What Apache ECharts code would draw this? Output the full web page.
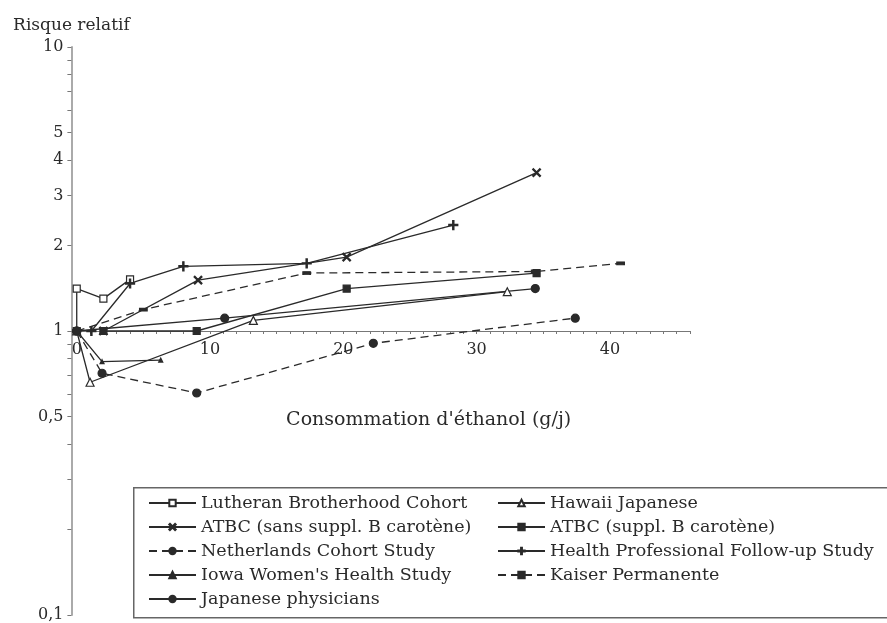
<!DOCTYPE html>
<html>
<head>
<meta charset="utf-8">
<script src="https://cdn.jsdelivr.net/npm/echarts@6/dist/echarts.min.js"></script>
<style>html,body{margin:0;padding:0;background:#fff}#c{width:887px;height:623px}</style>
</head>
<body>
<div id="c"></div>
<script>
// ---- data ----
const seriesNames = [
  'Lutheran Brotherhood Cohort',
  'Hawaii Japanese',
  'ATBC (sans suppl. B carotène)',
  'ATBC (suppl. B carotène)',
  'Netherlands Cohort Study',
  'Health Professional Follow-up Study',
  "Iowa Women's Health Study",
  'Kaiser Permanente',
  'Japanese physicians'
];
const lutheranX = [0, 0, 2.0, 4.0];
const lutheranY = [1, 1.41, 1.30, 1.52];
const hawaiiX = [0, 1.0, 13.25, 32.3];
const hawaiiY = [1, 0.66, 1.09, 1.375];
const atbcSansX = [2.0, 9.1, 20.25, 34.5];
const atbcSansY = [1.0, 1.51, 1.82, 3.61];
const atbcSupX = [2.0, 9.0, 20.25, 34.5];
const atbcSupY = [1.0, 1.0, 1.41, 1.60];
const netherX = [0, 1.9, 9.0, 22.25, 37.4];
const netherY = [1, 0.71, 0.605, 0.905, 1.11];
const hpfX = [1.1, 4.0, 8.0, 17.25, 28.25];
const hpfY = [1.0, 1.47, 1.69, 1.73, 2.36];
const iowaX = [0, 1.9, 6.3];
const iowaY = [1, 0.78, 0.79];
const kaiserX = [0, 5.0, 17.25, 34.4, 40.8];
const kaiserY = [1, 1.19, 1.60, 1.62, 1.73];
const japanX = [0, 11.1, 34.4];
const japanY = [1, 1.11, 1.41];

const xLabelValues = [0, 10, 20, 30, 40];
const yLabelValues = [0.1, 0.5, 1, 2, 3, 4, 5, 10];
const yTickValues = [0.1,0.2,0.3,0.4,0.5,0.6,0.7,0.8,0.9,1,2,3,4,5,6,7,8,9,10];
const xTickValues = [];
for (let i = 0; i <= 46; i++) xTickValues.push(i);

// ---- styling ----
const FONT = 'DejaVu Serif';
const INK = '#2a2a2a';
const X_MIN = -0.4, X_MAX = 46;
const pairs = (xs, ys) => xs.map((x, i) => [x, ys[i]]);
const crossPath = 'path://M1,0L5,4L9,0L10,1L6,5L10,9L9,10L5,6L1,10L0,9L4,5L0,1Z';
const plusPath = 'path://M4.3,0H5.7V4.3H10V5.7H5.7V10H4.3V5.7H0V4.3H4.3Z';

function mk(name, xs, ys, symbol, size, dashed, fill) {
  return {
    name, type: 'line', xAxisIndex: 0, yAxisIndex: 0,
    data: pairs(xs, ys),
    symbol, symbolSize: size, showSymbol: true,
    lineStyle: { color: INK, width: 1.3, type: dashed ? [8, 5] : 'solid' },
    itemStyle: { color: fill || INK, borderColor: INK, borderWidth: 1.2 },
    emphasis: { disabled: true },
    z: 3
  };
}

const series = [
  mk(seriesNames[0], lutheranX, lutheranY, 'rect', 7, false, '#fff'),
  mk(seriesNames[1], hawaiiX, hawaiiY, 'triangle', 8, false, '#fff'),
  mk(seriesNames[2], atbcSansX, atbcSansY, crossPath, 8, false),
  mk(seriesNames[3], atbcSupX, atbcSupY, 'rect', 7, false),
  mk(seriesNames[4], netherX, netherY, 'circle', 8, true),
  mk(seriesNames[5], hpfX, hpfY, plusPath, 9, false),
  mk(seriesNames[6], iowaX, iowaY, 'triangle', 4, false),
  mk(seriesNames[7], kaiserX, kaiserY, 'rect', [7, 3], true),
  mk(seriesNames[8], japanX, japanY, 'circle', 8, false)
];

const legendText = { fontFamily: FONT, fontSize: 17.5, lineHeight: 20, color: INK };

const chart = echarts.init(document.getElementById('c'), null, { renderer: 'canvas' });
chart.setOption({
  animation: false,
  backgroundColor: '#fff',
  grid: [
    { left: 71.4, width: 618.5, top: 47, height: 568 },
    { left: 71.4, width: 618.5, top: 47, height: 284 }
  ],
  xAxis: [
    { gridIndex: 0, type: 'value', min: X_MIN, max: X_MAX, show: false },
    {
      gridIndex: 1, type: 'value', min: X_MIN, max: X_MAX, position: 'bottom',
      axisLine: { show: true, onZero: false, lineStyle: { color: '#777', width: 1 } },
      axisTick: { show: true, customValues: xTickValues, length: 3, lineStyle: { color: '#777' } },
      axisLabel: { customValues: xLabelValues, fontFamily: FONT, fontSize: 16, color: INK, margin: 11 },
      splitLine: { show: false },
      name: "Consommation d'éthanol (g/j)",
      nameLocation: 'middle', nameGap: 80,
      nameTextStyle: { fontFamily: FONT, fontSize: 19, color: INK, padding: [0, 0, 0, 96] }
    }
  ],
  yAxis: [
    {
      gridIndex: 0, type: 'log', logBase: 10, min: 0.1, max: 10,
      axisLine: { show: true, onZero: false, lineStyle: { color: '#aaa', width: 2 } },
      axisTick: { show: true, customValues: yTickValues, length: 4, lineStyle: { color: '#777' } },
      axisLabel: {
        customValues: yLabelValues, fontFamily: FONT, fontSize: 16, color: INK, margin: 8,
        formatter: v => String(v).replace('.', ',')
      },
      splitLine: { show: false },
      minorTick: { show: false },
      name: 'Risque relatif', nameLocation: 'end', nameGap: 13,
      nameTextStyle: { fontFamily: FONT, fontSize: 17, color: INK, align: 'center' }
    },
    { gridIndex: 1, type: 'value', show: false }
  ],
  legend: [
    {
      data: [seriesNames[0], seriesNames[2], seriesNames[4], seriesNames[6], seriesNames[8]],
      orient: 'vertical', left: 148, top: 493, padding: 0,
      itemWidth: 47, itemHeight: 8, itemGap: 4, textStyle: legendText,
      selectedMode: false
    },
    {
      data: [seriesNames[1], seriesNames[3], seriesNames[5], seriesNames[7]],
      orient: 'vertical', left: 497, top: 493, padding: 0,
      itemWidth: 47, itemHeight: 8, itemGap: 4, textStyle: legendText,
      selectedMode: false
    }
  ],
  graphic: [
    {
      type: 'rect', left: 133, top: 487, z: -1,
      shape: { x: 0, y: 0, width: 800, height: 130 },
      style: { fill: '#fff', stroke: '#666', lineWidth: 1.5 }
    }
  ],
  series
});
</script>
</body>
</html>
